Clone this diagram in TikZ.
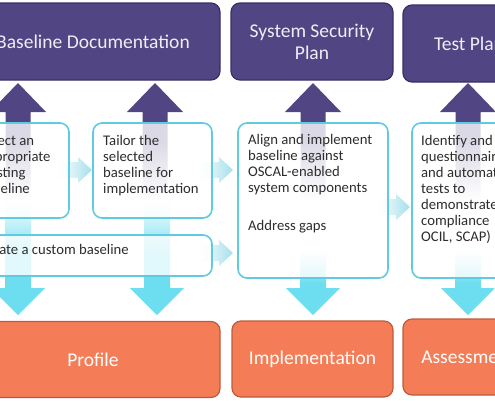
\documentclass[tikz,border=0pt]{standalone}
\usepackage{fontspec}
\setmainfont{Carlito}
\usepackage{tikz}
\definecolor{purp}{RGB}{81,69,132}
\definecolor{purpdark}{RGB}{58,46,102}
\definecolor{orng}{RGB}{244,125,87}
\definecolor{orngdark}{RGB}{190,90,60}
\definecolor{stepline}{RGB}{95,203,224}
\definecolor{lightcyan}{RGB}{165,224,236}
\definecolor{brightcyan}{RGB}{109,221,240}
\definecolor{bodytxt}{RGB}{45,45,45}
\definecolor{headtxt}{RGB}{240,238,245}

\tikzset{
	topbox/.style={rectangle, rounded corners=9pt, draw=purpdark, line width=1.2pt, fill=purp, text=headtxt, font=\fontsize{19.5}{22}\selectfont, align=center, minimum height=77pt},
	stepbox/.style={rectangle, rounded corners=9pt, draw=stepline, line width=1.6pt, fill=white, fill opacity=0.8},
	steptext/.style={anchor=north west, inner sep=0pt, text=bodytxt, font=\fontsize{14.7}{16}\selectfont, align=left},
	outbox/.style={rectangle, rounded corners=9pt, draw=orngdark, line width=1.2pt, fill=orng, text=white, font=\fontsize{19.5}{22}\selectfont, minimum height=76pt},
	uparr/.style={top color=purp, bottom color=white, middle color=purp},
	rtarr/.style={left color=white, right color=lightcyan},
	dnarr/.style={top color=white, bottom color=brightcyan, middle color=brightcyan}
}

% block arrows: x, tip, tail, style
\newcommand{\blkup}[4]{\shade[#4] (#1-12.5,#3) -- (#1-12.5,#2+29) -- (#1-28,#2+29) -- (#1,#2) -- (#1+28,#2+29) -- (#1+12.5,#2+29) -- (#1+12.5,#3) -- cycle;}
\newcommand{\blkdown}[4]{\shade[#4] (#1-13,#3) -- (#1-13,#2-27) -- (#1-27,#2-27) -- (#1,#2) -- (#1+27,#2-27) -- (#1+13,#2-27) -- (#1+13,#3) -- cycle;}
% y, tip, tail, style
\newcommand{\blkright}[4]{\shade[#4] (#3,#1-8) -- (#2-14,#1-8) -- (#2-14,#1-13) -- (#2,#1) -- (#2-14,#1+13) -- (#2-14,#1+8) -- (#3,#1+8) -- cycle;}

\begin{document}
\begin{tikzpicture}[x=1pt, y=-1pt]
	\useasboundingbox (0,0) rectangle (495,400);
	\clip (0,0) rectangle (495,400);

	% arrows up
	\blkup{18}{83}{200}{uparr}
	\blkup{155}{83}{200}{uparr}
	\blkup{313}{83}{200}{uparr}
	\blkup{468}{83}{200}{uparr}
	% arrows down
	\blkdown{18}{315}{200}{dnarr}
	\blkdown{157}{315}{200}{dnarr}
	\blkdown{313}{315}{250}{dnarr}
	\blkdown{468}{315}{250}{dnarr}
	% arrows right
	\blkright{170}{92}{58}{rtarr}
	\blkright{170}{233}{198}{rtarr}
	\blkright{253}{233}{198}{rtarr}
	\blkright{207}{410}{376}{rtarr}

	% step boxes
	\node[stepbox, minimum width=99pt, minimum height=95pt] (select) at (19.5,170.5) {};
	\node[stepbox, minimum width=119pt, minimum height=95pt] (tailor) at (152.5,170.5) {};
	\node[stepbox, minimum width=242pt, minimum height=41pt] (custom) at (91,255.5) {};
	\node[stepbox, minimum width=150pt, minimum height=155pt] (align) at (313,200.5) {};
	\node[stepbox, minimum width=112pt, minimum height=155pt] (ident) at (468,200.5) {};

	\node[steptext] (selecttxt) at (-20,135) {Select an\\appropriate\\existing\\baseline};
	\node[steptext] (tailortxt) at (103,135) {Tailor the\\selected\\baseline for\\implementation};
	\node[steptext] (customtxt) at (-21,244) {Create a custom baseline};
	\node[steptext] (aligntxt) at (248,134) {Align and implement\\baseline against\\OSCAL-enabled\\system components\\[22pt]Address gaps};
	\node[steptext] (identtxt) at (421,135) {Identify and\\questionnaires\\and automated\\tests to\\demonstrate\\compliance\\OCIL, SCAP)};

	% top row
	\node[topbox, minimum width=254pt] (bdoc) at (93,41.5) {Baseline Documentation};
	\node[topbox, minimum width=162pt] (ssp) at (312,41.5) {System Security\\Plan};
	\node[topbox, minimum width=132pt] (tplan) at (469,43.5) {Test Plan};

	% bottom row
	\node[outbox, minimum width=254pt] (profile) at (93,359.5) {Profile};
	\node[outbox, minimum width=161pt] (impl) at (312.5,359) {Implementation};
	\node[outbox, minimum width=130pt] (assess) at (468,357) {Assessment};
\end{tikzpicture}
\end{document}
